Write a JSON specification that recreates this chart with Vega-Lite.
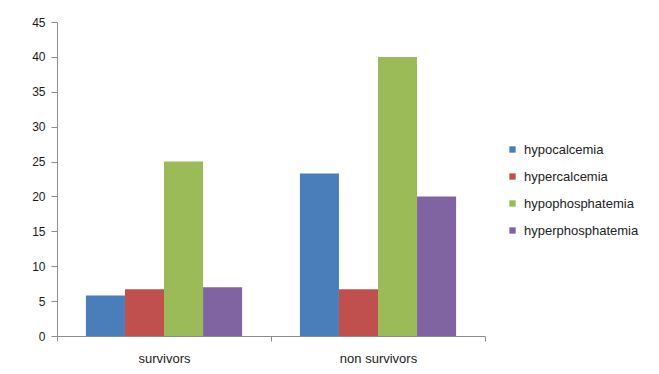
{
  "$schema": "https://vega.github.io/schema/vega-lite/v6.json",
  "width": 428,
  "height": 314,
  "autosize": {"type": "none"},
  "padding": {"left": 57, "top": 22, "right": 174, "bottom": 38},
  "background": "white",
  "config": {
    "view": {"stroke": null},
    "font": "Liberation Sans"
  },
  "data": {
    "values": [
      {"group": "survivors", "condition": "hypocalcemia", "value": 5.8},
      {"group": "survivors", "condition": "hypercalcemia", "value": 6.7},
      {"group": "survivors", "condition": "hypophosphatemia", "value": 25},
      {"group": "survivors", "condition": "hyperphosphatemia", "value": 7},
      {"group": "non survivors", "condition": "hypocalcemia", "value": 23.3},
      {"group": "non survivors", "condition": "hypercalcemia", "value": 6.7},
      {"group": "non survivors", "condition": "hypophosphatemia", "value": 40},
      {"group": "non survivors", "condition": "hyperphosphatemia", "value": 20}
    ]
  },
  "mark": {"type": "bar"},
  "encoding": {
    "x": {
      "field": "group",
      "type": "nominal",
      "sort": ["survivors", "non survivors"],
      "scale": {"paddingInner": 0, "paddingOuter": 0},
      "axis": {
        "title": null,
        "labelAngle": 0,
        "tickBand": "extent",
        "domainColor": "#8c8c8c",
        "tickColor": "#8c8c8c",
        "tickSize": 5,
        "labelPadding": 11,
        "labelFontSize": 13,
        "labelColor": "#222222",
        "labelFont": "Liberation Sans"
      }
    },
    "xOffset": {
      "field": "condition",
      "type": "nominal",
      "sort": ["hypocalcemia", "hypercalcemia", "hypophosphatemia", "hyperphosphatemia"],
      "scale": {"paddingInner": 0, "paddingOuter": 0.74}
    },
    "y": {
      "field": "value",
      "type": "quantitative",
      "scale": {"domain": [0, 45]},
      "axis": {
        "title": null,
        "values": [0, 5, 10, 15, 20, 25, 30, 35, 40, 45],
        "grid": false,
        "domainColor": "#8c8c8c",
        "tickColor": "#8c8c8c",
        "tickSize": 6,
        "labelPadding": 6,
        "labelFontSize": 12,
        "labelColor": "#1a1a1a",
        "labelFont": "Liberation Sans"
      }
    },
    "color": {
      "field": "condition",
      "type": "nominal",
      "sort": ["hypocalcemia", "hypercalcemia", "hypophosphatemia", "hyperphosphatemia"],
      "scale": {
        "domain": ["hypocalcemia", "hypercalcemia", "hypophosphatemia", "hyperphosphatemia"],
        "range": ["#4a7ebb", "#c0504d", "#9bbb59", "#8064a2"]
      },
      "legend": {
        "title": null,
        "orient": "none",
        "legendX": 449,
        "legendY": 121,
        "symbolType": "square",
        "symbolSize": 40,
        "symbolStrokeWidth": 0,
        "labelFontSize": 13,
        "labelColor": "#222222",
        "labelFont": "Liberation Sans",
        "labelOffset": 5,
        "rowPadding": 13
      }
    }
  }
}
